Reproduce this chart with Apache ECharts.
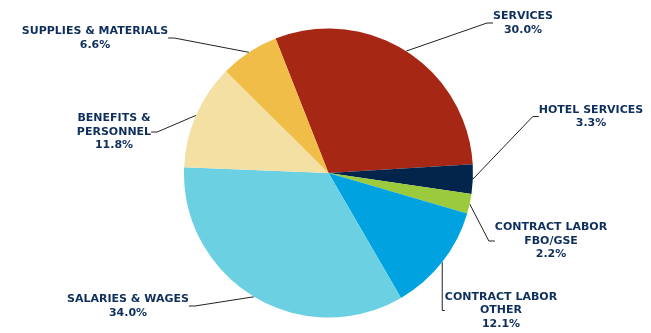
<!DOCTYPE html>
<html>
<head>
<meta charset="utf-8">
<script src="https://cdn.jsdelivr.net/npm/echarts@6/dist/echarts.min.js"></script>
<style>html,body{margin:0;padding:0;background:#fff}#c{width:651px;height:333px}</style>
</head>
<body>
<div id="c"></div>
<script>
const categories = ['SERVICES', 'HOTEL SERVICES', 'CONTRACT LABOR\nFBO/GSE', 'CONTRACT LABOR\nOTHER', 'SALARIES & WAGES', 'BENEFITS &\nPERSONNEL', 'SUPPLIES & MATERIALS'];
const shares = [30.0, 3.3, 2.2, 12.1, 34.0, 11.8, 6.6];
const colors = ['#A52714', '#03254C', '#9BCB3C', '#00A3DF', '#6BD1E2', '#F5E0A4', '#F0BE48'];
// label anchor positions (center x, middle y of text block)
const labelPos = [[523, 23], [591, 116.5], [551, 241], [501, 310.5], [128, 306], [114, 132], [95, 38]];

const chart = echarts.init(document.getElementById('c'), null, {renderer: 'canvas'});
chart.setOption({
  animation: false,
  series: [{
    type: 'pie',
    center: [328.5, 173],
    radius: 144.5,
    startAngle: 111.5,
    clockwise: true,
    avoidLabelOverlap: false,
    data: categories.map((n, i) => ({name: n, value: shares[i], itemStyle: {color: colors[i]}})),
    itemStyle: {borderWidth: 0},
    label: {
      show: true,
      position: 'outer',
      formatter: p => p.name + '\n' + p.value.toFixed(1) + '%',
      color: '#0E2F5C',
      fontFamily: 'DejaVu Sans',
      fontWeight: 'bold',
      fontSize: 11,
      lineHeight: 13.5,
      align: 'center'
    },
    labelLine: {
      show: true,
      length: 10,
      length2: 6,
      lineStyle: {color: '#222', width: 1}
    },
    labelLayout: function (params) {
      const p = labelPos[params.dataIndex];
      return {x: p[0], y: p[1], align: 'center', verticalAlign: 'middle'};
    }
  }]
});
</script>
</body>
</html>
